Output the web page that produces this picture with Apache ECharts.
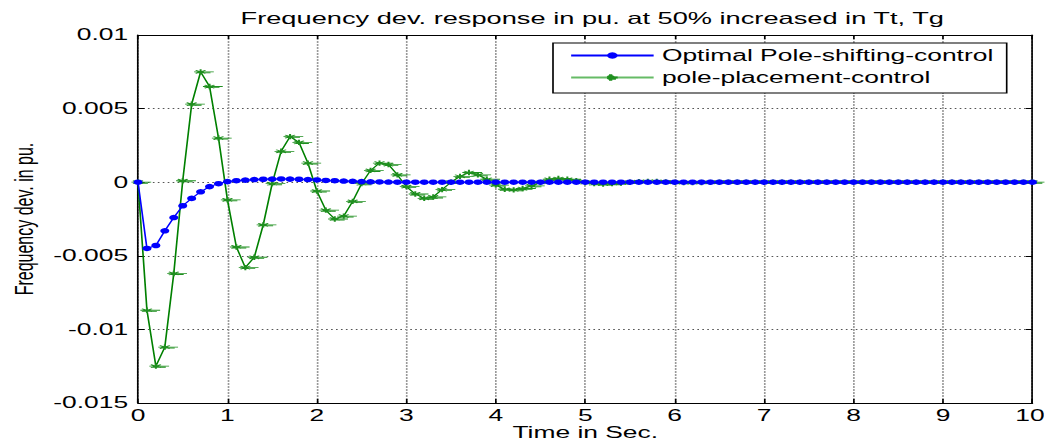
<!DOCTYPE html>
<html>
<head>
<meta charset="utf-8">
<script src="https://cdn.jsdelivr.net/npm/echarts@6/dist/echarts.min.js"></script>
<style>
  html, body { margin: 0; padding: 0; background: #fff; overflow: hidden; }
  #wrap { width: 1045px; height: 443px; overflow: hidden; position: relative; }
  #chart { height: 443px; position: absolute; left: 0; top: 0; transform-origin: 0 0; }
</style>
</head>
<body>
<div id="wrap"><div id="chart"></div></div>
<script>
// Simulation time (s), sampled every 0.1 s
const timeSec = [
  0, 0.1, 0.2, 0.3, 0.4, 0.5, 0.6, 0.7, 0.8, 0.9,
  1, 1.1, 1.2, 1.3, 1.4, 1.5, 1.6, 1.7, 1.8, 1.9,
  2, 2.1, 2.2, 2.3, 2.4, 2.5, 2.6, 2.7, 2.8, 2.9,
  3, 3.1, 3.2, 3.3, 3.4, 3.5, 3.6, 3.7, 3.8, 3.9,
  4, 4.1, 4.2, 4.3, 4.4, 4.5, 4.6, 4.7, 4.8, 4.9,
  5, 5.1, 5.2, 5.3, 5.4, 5.5, 5.6, 5.7, 5.8, 5.9,
  6, 6.1, 6.2, 6.3, 6.4, 6.5, 6.6, 6.7, 6.8, 6.9,
  7, 7.1, 7.2, 7.3, 7.4, 7.5, 7.6, 7.7, 7.8, 7.9,
  8, 8.1, 8.2, 8.3, 8.4, 8.5, 8.6, 8.7, 8.8, 8.9,
  9, 9.1, 9.2, 9.3, 9.4, 9.5, 9.6, 9.7, 9.8, 9.9,
  10
];

// Frequency deviation (pu) with optimal pole-shifting control
const optimalPoleShifting = [
  0, -0.0045, -0.0043, -0.0033, -0.0024, -0.0016, -0.0011, -0.00065, -0.0003, -0.0001,
  0.00004, 0.0001, 0.00014, 0.00018, 0.0002, 0.00021, 0.00022, 0.00021, 0.0002, 0.00018,
  0.00015, 0.00012, 0.0001, 0.00008, 0.00006, 0.00004, 0.00003, 0.00002, 0.00001, 0,
  0, 0, 0, 0, 0, 0, 0, 0, 0, 0,
  0, 0, 0, 0, 0, 0, 0, 0, 0, 0,
  0, 0, 0, 0, 0, 0, 0, 0, 0, 0,
  0, 0, 0, 0, 0, 0, 0, 0, 0, 0,
  0, 0, 0, 0, 0, 0, 0, 0, 0, 0,
  0, 0, 0, 0, 0, 0, 0, 0, 0, 0,
  0, 0, 0, 0, 0, 0, 0, 0, 0, 0,
  0
];

// Frequency deviation (pu) with conventional pole-placement control
const polePlacement = [
  0, -0.0087, -0.0125, -0.0112, -0.0062, 0.0001, 0.0053, 0.0075, 0.0065, 0.0030,
  -0.0012, -0.0044, -0.0058, -0.0051, -0.0029, -0.0001, 0.0021, 0.0031, 0.0027, 0.0013,
  -0.0006, -0.0019, -0.0025, -0.0023, -0.0013, -0.0001, 0.0008, 0.0013, 0.0012, 0.0005,
  -0.0003, -0.0008, -0.0011, -0.0010, -0.0005, 0.0000, 0.0004, 0.00066, 0.0005, 0.0002,
  -0.0002, -0.00048, -0.00052, -0.00043, -0.00025, -0.00002, 0.0002, 0.00025, 0.0002, 0.0001,
  -0.00003, -0.0001, -0.00013, -0.0001, -0.00006, 0, 0.00004, 0.00006, 0.00005, 0.00002,
  -0.00001, -0.00003, -0.00003, -0.00002, -0.00001, 0, 0, 0, 0, 0,
  0, 0, 0, 0, 0, 0, 0, 0, 0, 0,
  0, 0, 0, 0, 0, 0, 0, 0, 0, 0,
  0, 0, 0, 0, 0, 0, 0, 0, 0, 0,
  0
];

const seriesNames = ['Optimal Pole-shifting-control', 'pole-placement-control'];
const yTickLabels = ['-0.015', '-0.01', '-0.005', '0', '0.005', '0.01'];
const xTickLabels = ['0', '1', '2', '3', '4', '5', '6', '7', '8', '9', '10'];

// The figure is drawn on a narrower canvas and widened horizontally
const SX = 1.65;
const W = 1045 / SX;
const chartEl = document.getElementById('chart');
chartEl.style.width = W + 'px';
chartEl.style.transform = 'scaleX(' + SX + ')';

const FONT = "'Liberation Sans', Arial, Helvetica, sans-serif";
const yMin = -0.015, yMax = 0.01, yStep = 0.005;
const xMin = 0, xMax = 10, xStep = 1;

const plotLeft = 138 / SX, plotRight = 12 / SX;

function pairs(ys) { return timeSec.map((t, i) => [t, ys[i]]); }

// asterisk marker with a trailing horizontal stroke
const starSymbol = 'path://M4,0 L4,8 M1,1.7 L7,6.3 M1,6.3 L7,1.7 M0,4 L12,4 M2,5.6 L10,5.6';

const chart = echarts.init(chartEl, null, { renderer: 'svg' });
chart.setOption({
  animation: false,
  backgroundColor: '#fff',
  textStyle: { fontFamily: FONT, color: '#000' },
  title: {
    text: 'Frequency dev. response in pu. at 50% increased in Tt, Tg',
    left: 584 / SX,
    textAlign: 'center',
    top: 5,
    textStyle: { fontFamily: FONT, fontSize: 16.5, fontWeight: 'normal', color: '#000' }
  },
  legend: {
    orient: 'vertical',
    left: 553 / SX,
    top: 43,
    padding: [3, 8, 6, 10],
    itemWidth: 50,
    itemHeight: 8,
    itemGap: 3,
    borderColor: '#000',
    borderWidth: 1,
    backgroundColor: '#fff',
    textStyle: { fontFamily: FONT, fontSize: 16, lineHeight: 19, color: '#000' },
    data: [
      { name: seriesNames[0] },
      { name: seriesNames[1], lineStyle: { color: '#66bb66' } }
    ]
  },
  grid: {
    left: plotLeft, right: plotRight, top: 35, bottom: 40,
    containLabel: false, outerBoundsMode: 'none'
  },
  xAxis: [
    {
      type: 'value', min: xMin, max: xMax, interval: xStep,
      name: 'Time in Sec.', nameLocation: 'middle', nameGap: 21, nameMoveOverlap: false,
      nameTextStyle: { fontFamily: FONT, fontSize: 16, color: '#000' },
      axisLine: { onZero: false, lineStyle: { color: '#000', width: 1 } },
      axisTick: { inside: true, length: 4, lineStyle: { color: '#000' } },
      axisLabel: {
        margin: 4, fontFamily: FONT, fontSize: 16, color: '#000',
        formatter: v => {
          const label = xTickLabels[Math.round((v - xMin) / xStep)];
          return v === xMax ? '{edge|' + label + '}' : label;
        },
        rich: { edge: { fontFamily: FONT, fontSize: 16, color: '#000', padding: [0, 3, 0, 0] } }
      },
      splitLine: { show: true, lineStyle: { color: '#9a9a9a', width: 1, type: [2, 1] } }
    },
    {
      type: 'value', min: xMin, max: xMax, interval: xStep, position: 'top',
      axisLine: { onZero: false, lineStyle: { color: '#000', width: 1 } },
      axisTick: { inside: true, length: 4, lineStyle: { color: '#000' } },
      axisLabel: { show: false }, splitLine: { show: false }
    }
  ],
  yAxis: [
    {
      type: 'value', min: yMin, max: yMax, interval: yStep,
      name: 'Frequency dev. in pu.', nameLocation: 'middle', nameGap: 61, nameMoveOverlap: false,
      nameTextStyle: { fontFamily: FONT, fontSize: 16, color: '#000' },
      axisLine: { onZero: false, lineStyle: { color: '#000', width: 1 } },
      axisTick: { inside: true, length: 4, lineStyle: { color: '#000' } },
      axisLabel: {
        margin: 6, fontFamily: FONT, fontSize: 16, color: '#000',
        formatter: v => yTickLabels[Math.round((v - yMin) / yStep)]
      },
      splitLine: { show: true, lineStyle: { color: '#555', width: 1, type: [1, 2] } }
    },
    {
      type: 'value', min: yMin, max: yMax, interval: yStep, position: 'right',
      axisLine: { onZero: false, lineStyle: { color: '#000', width: 1 } },
      axisTick: { inside: true, length: 4, lineStyle: { color: '#000' } },
      axisLabel: { show: false }, splitLine: { show: false }
    }
  ],
  series: [
    {
      name: seriesNames[1],
      type: 'line',
      data: pairs(polePlacement),
      xAxisIndex: 0, yAxisIndex: 0,
      lineStyle: { color: '#008000', width: 1 },
      symbol: starSymbol,
      symbolSize: [12, 8],
      symbolOffset: [2, 0],
      symbolKeepAspect: true,
      showAllSymbol: true,
      itemStyle: { color: 'rgba(0,0,0,0)', borderColor: '#1f8f1f', borderWidth: 1 },
      z: 2
    },
    {
      name: seriesNames[0],
      type: 'line',
      data: pairs(optimalPoleShifting),
      xAxisIndex: 0, yAxisIndex: 0,
      lineStyle: { color: '#0000ff', width: 1 },
      symbol: 'circle',
      symbolSize: 5.5,
      showAllSymbol: true,
      itemStyle: { color: '#0000ff', borderWidth: 0 },
      z: 3
    }
  ]
});
</script>
</body>
</html>
